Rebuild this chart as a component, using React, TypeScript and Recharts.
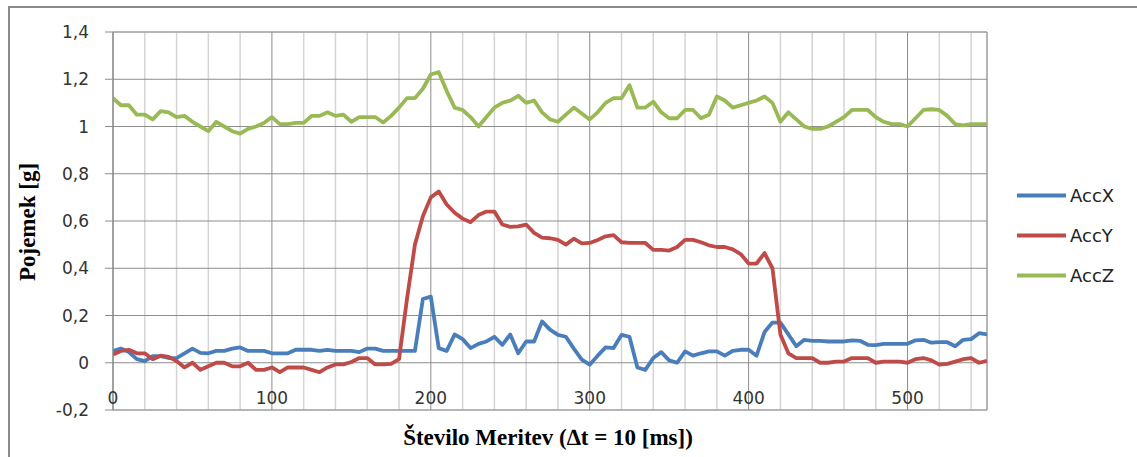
import { LineChart, Line, XAxis, YAxis, CartesianGrid } from "recharts";

// one reading every 5 samples
const SAMPLE_STEP = 5;

const accX = [
  0.05, 0.06, 0.045, 0.015, 0.007, 0.028, 0.028, 0.02, 0.02, 0.04, 0.06, 0.042, 0.04, 0.05, 0.05, 0.06, 0.065, 0.05, 0.05, 0.05,
  0.04, 0.04, 0.04, 0.055, 0.055, 0.055, 0.05, 0.055, 0.05, 0.05, 0.05, 0.045, 0.06, 0.06, 0.05, 0.05, 0.05, 0.05, 0.05, 0.27,
  0.28, 0.062, 0.05, 0.12, 0.1, 0.062, 0.08, 0.09, 0.11, 0.076, 0.12, 0.04, 0.09, 0.09, 0.175, 0.14, 0.118, 0.11, 0.06, 0.013,
  -0.008, 0.03, 0.065, 0.062, 0.118, 0.11, -0.02, -0.03, 0.02, 0.045, 0.01, 0.0, 0.048, 0.03, 0.04, 0.048, 0.048, 0.03, 0.05, 0.055,
  0.055, 0.03, 0.13, 0.17, 0.17, 0.12, 0.07, 0.097, 0.093, 0.093, 0.09, 0.09, 0.09, 0.095, 0.093, 0.076, 0.075, 0.08, 0.08, 0.08,
  0.08, 0.095, 0.097, 0.085, 0.087, 0.087, 0.07, 0.097, 0.1, 0.125, 0.12,
];

const accY = [
  0.035, 0.05, 0.055, 0.04, 0.04, 0.015, 0.03, 0.025, 0.007, -0.02, 0.0, -0.03, -0.015, 0.0, 0.0, -0.015, -0.015, 0.0, -0.03, -0.03,
  -0.02, -0.04, -0.02, -0.02, -0.02, -0.03, -0.04, -0.02, -0.007, -0.007, 0.003, 0.02, 0.02, -0.007, -0.007, -0.005, 0.015, 0.27, 0.5, 0.62,
  0.7, 0.725, 0.67, 0.635, 0.61, 0.595, 0.625, 0.64, 0.64, 0.585, 0.575, 0.577, 0.585, 0.55, 0.53, 0.527, 0.52, 0.5, 0.525, 0.505,
  0.507, 0.52, 0.535, 0.54, 0.51, 0.507, 0.507, 0.507, 0.478, 0.478, 0.475, 0.49, 0.52, 0.52, 0.51, 0.497, 0.49, 0.49, 0.48, 0.46,
  0.42, 0.42, 0.464, 0.4, 0.12, 0.04, 0.02, 0.02, 0.02, 0.0, 0.0, 0.005, 0.005, 0.02, 0.02, 0.02, 0.0, 0.005, 0.005, 0.005,
  0.0, 0.015, 0.02, 0.01, -0.008, -0.005, 0.005, 0.015, 0.02, 0.0, 0.008,
];

const accZ = [
  1.12, 1.09, 1.09, 1.05, 1.05, 1.03, 1.065, 1.06, 1.04, 1.045, 1.02, 1.0, 0.98, 1.02, 1.0, 0.98, 0.97, 0.99, 1.0, 1.015,
  1.04, 1.01, 1.01, 1.015, 1.015, 1.045, 1.045, 1.06, 1.045, 1.05, 1.02, 1.04, 1.04, 1.04, 1.017, 1.045, 1.08, 1.12, 1.12, 1.16,
  1.22, 1.23, 1.15, 1.08, 1.07, 1.04, 1.0, 1.04, 1.08, 1.1, 1.11, 1.13, 1.1, 1.11, 1.06, 1.03, 1.02, 1.05, 1.08, 1.055,
  1.03, 1.06, 1.1, 1.12, 1.12, 1.175, 1.08, 1.08, 1.105, 1.06, 1.035, 1.035, 1.07, 1.07, 1.035, 1.05, 1.127, 1.11, 1.08, 1.09,
  1.1, 1.11, 1.127, 1.1, 1.02, 1.06, 1.03, 1.0, 0.99, 0.99, 1.0, 1.02, 1.04, 1.07, 1.07, 1.07, 1.04, 1.02, 1.01, 1.01,
  1.0, 1.035, 1.07, 1.073, 1.07, 1.045, 1.01, 1.005, 1.01, 1.01, 1.01,
];

const xTicks = [0, 100, 200, 300, 400, 500];
const xMinorTicks = [20, 40, 60, 80, 120, 140, 160, 180, 220, 240, 260, 280, 320, 340, 360, 380, 420, 440, 460, 480, 520, 540];
const yTicks = [-0.2, 0, 0.2, 0.4, 0.6, 0.8, 1, 1.2, 1.4];
// light lines every 0.04 between the labelled ones
const yMinorTicks = Array.from({ length: 41 }, (_, i) => Math.round((-0.2 + i * 0.04) * 100) / 100);

const series = [
  { key: "AccX", color: "#4a7ebb" },
  { key: "AccY", color: "#be4b48" },
  { key: "AccZ", color: "#98b954" },
];

const data = accX.map((v, i) => ({
  n: i * SAMPLE_STEP,
  AccX: v,
  AccY: accY[i],
  AccZ: accZ[i],
}));

const tickFont = { fontFamily: "DejaVu Sans", fontSize: 17, fill: "#333" };

const formatY = (v: number) => String(v).replace(".", ",");

const XTick = ({ x, y, payload }: any) => (
  <text x={x} y={y - 12} textAnchor="middle" dominantBaseline="central" {...tickFont}>
    {payload.value}
  </text>
);

const titleStyle = {
  position: "absolute" as const,
  fontFamily: "Liberation Serif",
  fontWeight: "bold" as const,
  fontSize: 23,
  whiteSpace: "nowrap" as const,
  color: "#000",
};

export default function App() {
  return (
    <div
      style={{
        position: "absolute",
        left: 0,
        top: 0,
        width: 1137,
        height: 457,
        overflow: "hidden",
        background: "#fff",
      }}
    >
      <div
        style={{
          position: "absolute",
          left: 8,
          top: 6,
          width: 1200,
          height: 500,
          border: "2px solid #8a8a8a",
        }}
      />
      <div style={{ position: "absolute", left: 0, top: 0 }}>
        <LineChart
          width={1137}
          height={457}
          data={data}
          margin={{ top: 32, right: 150, bottom: 17, left: 53 }}
        >
          <XAxis xAxisId="minor" dataKey="n" type="number" domain={[0, 550]} ticks={xMinorTicks} hide />
          <YAxis yAxisId="minor" type="number" domain={[-0.2, 1.4]} ticks={yMinorTicks} hide />
          <CartesianGrid xAxisId="minor" yAxisId="minor" stroke="#d4d4d4" strokeWidth={1.5} />
          <CartesianGrid stroke="#8c8c8c" strokeWidth={1} />
          <XAxis
            dataKey="n"
            type="number"
            domain={[0, 550]}
            ticks={xTicks}
            height={30}
            axisLine={false}
            tickLine={false}
            tickSize={0}
            tickMargin={0}
            tick={<XTick />}
            allowDataOverflow
          />
          <YAxis
            type="number"
            domain={[-0.2, 1.4]}
            ticks={yTicks}
            width={60}
            tickFormatter={formatY}
            tick={tickFont}
            tickSize={8}
            tickMargin={16}
            axisLine={{ stroke: "#8c8c8c" }}
            tickLine={{ stroke: "#8c8c8c" }}
            allowDataOverflow
          />
          {series.map((s) => (
            <Line
              key={s.key}
              dataKey={s.key}
              type="linear"
              stroke={s.color}
              strokeWidth={3.8}
              strokeLinejoin="round"
              dot={false}
              activeDot={false}
              isAnimationActive={false}
            />
          ))}
        </LineChart>
      </div>

      <div
        style={{
          ...titleStyle,
          left: 28,
          top: 222,
          transform: "translate(-50%, -50%) rotate(-90deg)",
        }}
      >
        Pojemek [g]
      </div>
      <div
        style={{
          ...titleStyle,
          left: 548,
          top: 438,
          transform: "translate(-50%, -50%)",
        }}
      >
        Število Meritev (∆t = 10 [ms])
      </div>

      {series.map((s, i) => (
        <div
          key={s.key}
          style={{
            position: "absolute",
            left: 1017,
            top: 195 + i * 40,
            transform: "translateY(-50%)",
            display: "flex",
            alignItems: "center",
            fontFamily: "DejaVu Sans",
            fontSize: 18,
            color: "#222",
          }}
        >
          <span style={{ display: "inline-block", width: 49, height: 4, background: s.color, marginRight: 4 }} />
          {s.key}
        </div>
      ))}
    </div>
  );
}
